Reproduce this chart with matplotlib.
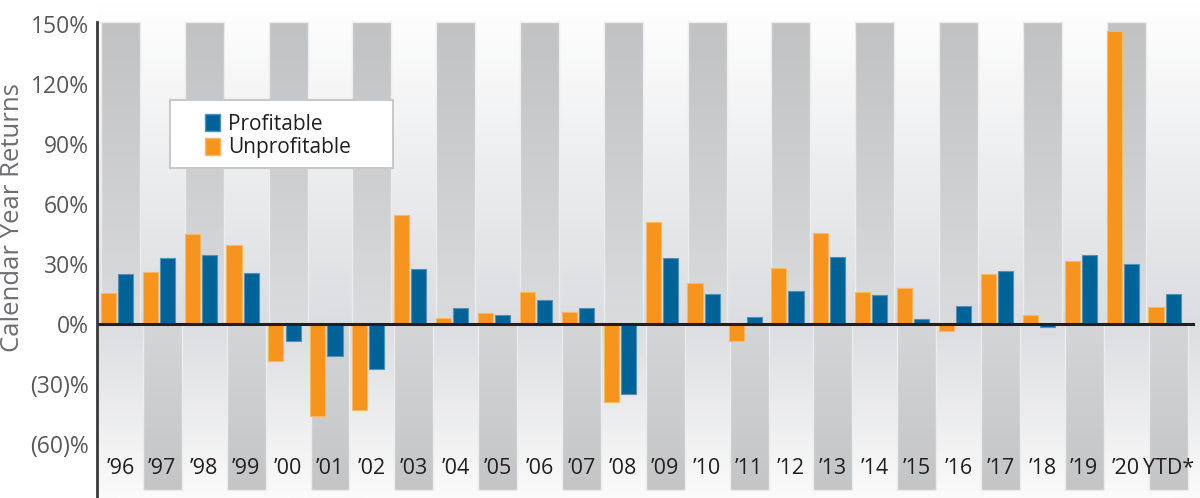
import numpy as np
import matplotlib.pyplot as plt
from matplotlib.colors import LinearSegmentedColormap
from matplotlib.patches import Rectangle, Patch

plt.rcParams['font.family'] = ['Open Sans', 'DejaVu Sans']

# data (calendar year returns, %)
years = ['\u201996', '\u201997', '\u201998', '\u201999', '\u201900', '\u201901', '\u201902',
         '\u201903', '\u201904', '\u201905', '\u201906', '\u201907', '\u201908', '\u201909',
         '\u201910', '\u201911', '\u201912', '\u201913', '\u201914', '\u201915', '\u201916',
         '\u201917', '\u201918', '\u201919', '\u201920', 'YTD*']
unprofitable = [15.3, 25.8, 45.0, 39.5, -18.3, -46.0, -43.0, 54.5, 3.2, 5.3, 16.2, 6.0, -39.2,
                51.0, 20.3, -8.3, 28.2, 45.5, 16.2, 18.2, -3.3, 25.2, 4.7, 31.7, 146.7, 8.7]
profitable = [25.0, 32.8, 34.3, 25.7, -8.3, -16.0, -22.5, 27.5, 8.2, 4.3, 11.8, 8.2, -35.2,
              32.8, 15.2, 3.7, 16.5, 33.7, 14.3, 2.7, 9.2, 26.3, -1.7, 34.3, 29.8, 14.8]
yticks = [150, 120, 90, 60, 30, 0, -30, -60]
ytick_labels = ['150%', '120%', '90%', '60%', '30%', '0%', '(30)%', '(60)%']

ORANGE = '#f7941d'
BLUE = '#006398'

fig = plt.figure(figsize=(12, 4.98), dpi=100)
ax = fig.add_axes([97 / 1200, 0, 1 - 97 / 1200, 1])
x0, x1 = -0.56, 25.76
y0, y1 = -87, 162
ax.set_xlim(x0, x1)
ax.set_ylim(y0, y1)

# background gradient: white at top/bottom, light grey around zero
yy = np.linspace(y1, y0, 400)
bg_cmap = LinearSegmentedColormap.from_list('bg', ['#ffffff', '#dcdde0', '#fbfbfb'])
t = np.where(yy >= 0, 0.5 - 0.5 * (yy / y1), 0.5 + 0.5 * (yy / y0))
ax.imshow(t[:, None], cmap=bg_cmap, vmin=0, vmax=1, aspect='auto',
          extent=[x0, x1, y0, y1], zorder=0)

# alternating grey columns
up_cmap = LinearSegmentedColormap.from_list('up', ['#c1c2c4', '#dadbdd'])
dn_cmap = LinearSegmentedColormap.from_list('dn', ['#d4d5d7', '#c4c5c7'])
grad = np.linspace(0, 1, 200)[:, None]
bw = 0.93
for i in range(len(years)):
    if i % 2 == 0:
        ext = [i - bw / 2, i + bw / 2, 0, 151]
        ax.imshow(grad, cmap=up_cmap, aspect='auto', extent=ext, zorder=1)
        ax.add_patch(Rectangle((i - bw / 2, 0), bw, 151, fill=False, ec='#ececec', lw=1, zorder=1.5))
    else:
        ext = [i - bw / 2, i + bw / 2, -83, 0]
        ax.imshow(grad, cmap=dn_cmap, aspect='auto', extent=ext, zorder=1)
        ax.add_patch(Rectangle((i - bw / 2, -83), bw, 83, fill=False, ec='#ececec', lw=1, zorder=1.5))

x = np.arange(len(years))
w = 0.36
ax.bar(x - 0.29, unprofitable, w, color=ORANGE, edgecolor='#fbb866', lw=0.8, zorder=3)
ax.bar(x + 0.12, profitable, w, color=BLUE, edgecolor='#4f93bd', lw=0.8, zorder=3)

ax.plot([x0, 25.6], [0, 0], color='#231f20', lw=2.2, zorder=4)

for s in ['top', 'right', 'bottom']:
    ax.spines[s].set_visible(False)
ax.spines['left'].set_bounds(y0, 151)
ax.spines['left'].set_color('#3a3a3a')
ax.spines['left'].set_linewidth(2)
ax.spines['left'].set_zorder(5)

ax.set_xticks([])
ax.set_yticks(yticks)
ax.set_yticklabels(ytick_labels, color='#58595b', fontsize=16.5)
ax.tick_params(axis='y', length=0, pad=6)

for i, lab in enumerate(years):
    ax.text(i, -72, lab, ha='center', va='center', fontsize=15.5, color='#231f20', zorder=6)

fig.text(13 / 1200, 1 - 218 / 498, 'Calendar Year Returns', rotation=90, ha='center', va='center',
         fontsize=18.5, color='#6d6e71')

# legend frame drawn separately to get the wide side padding
ax.add_patch(Rectangle(((170 - 97) / 1103, 1 - 168 / 498), 223 / 1103, 68 / 498,
                       transform=ax.transAxes, facecolor='white', edgecolor='#c8c9cb',
                       lw=1.5, zorder=7))
handles = [Patch(facecolor=BLUE, edgecolor='#4f93bd'), Patch(facecolor=ORANGE, edgecolor='#fbb866')]
leg = ax.legend(handles, ['Profitable', 'Unprofitable'], loc='upper left',
                bbox_to_anchor=((205 - 97) / 1103, 1 - 114 / 498), fontsize=15,
                frameon=False, handlelength=0.72, handleheight=0.85, handletextpad=0.4,
                labelspacing=0.12, borderpad=0, borderaxespad=0)
leg.set_zorder(8)
for txt in leg.get_texts():
    txt.set_color('#231f20')

fig.savefig('out.png', dpi=100)
